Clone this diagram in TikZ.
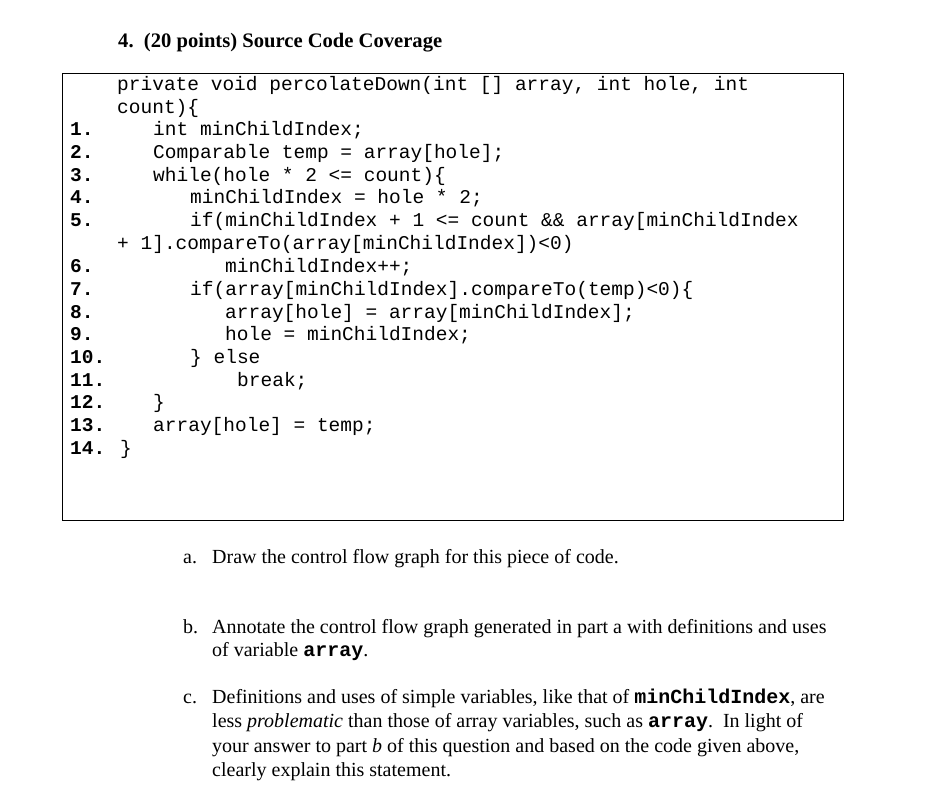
\documentclass[tikz,border=0pt]{standalone}
\usepackage{fontspec}
\setmainfont{Liberation Serif}
\setmonofont{Liberation Mono}
\begin{document}
\begin{tikzpicture}[x=1pt,y=-1pt,
  code/.style={anchor=base west,inner sep=0pt,font=\fontsize{19.5}{22}\ttfamily},
  num/.style={anchor=base west,inner sep=0pt,font=\fontsize{19.5}{22}\ttfamily\bfseries},
  txt/.style={anchor=base west,inner sep=0pt,font=\fontsize{20}{22}\selectfont}]
\useasboundingbox (0,0) rectangle (937,798);
\node[anchor=base west,inner sep=0pt,font=\fontsize{20.6}{24}\bfseries] (h) at (118,47) {4.\ \ (20 points) Source Code Coverage};
\draw[line width=0.8] (62,73) rectangle (843,520);
\node[code] (c0) at (117,90) {private void percolateDown(int [] array, int hole, int};
\node[code] (c0b) at (117,113) {count)\{};
\foreach \n/\y in {1/135,2/158,3/181,4/203,5/226,6/272,7/295,8/318,9/340,10/363,11/386,12/408,13/431,14/454}{
  \node[num] (n\n) at (70,\y) {\n.};
}
\node[code] (c1) at (153,135) {int minChildIndex;};
\node[code] (c2) at (153,158) {Comparable temp = array[hole];};
\node[code] (c3) at (153,181) {while(hole * 2 <= count)\{};
\node[code] (c4) at (190,203) {minChildIndex = hole * 2;};
\node[code] (c5) at (190,226) {if(minChildIndex + 1 <= count \&\& array[minChildIndex};
\node[code] (c5b) at (117,249) {+ 1].compareTo(array[minChildIndex])<0)};
\node[code] (c6) at (225,272) {minChildIndex++;};
\node[code] (c7) at (190,295) {if(array[minChildIndex].compareTo(temp)<0)\{};
\node[code] (c8) at (225,318) {array[hole] = array[minChildIndex];};
\node[code] (c9) at (225,340) {hole = minChildIndex;};
\node[code] (c10) at (190,363) {\} else};
\node[code] (c11) at (237,386) {break;};
\node[code] (c12) at (153,408) {\}};
\node[code] (c13) at (153,431) {array[hole] = temp;};
\node[code] (c14) at (120,454) {\}};
\node[txt] (a) at (183,563) {a.};
\node[txt] (at) at (212,563) {Draw the control flow graph for this piece of code.};
\node[txt] (b) at (183,633) {b.};
\node[txt] (bt) at (212,633) {Annotate the control flow graph generated in part a with definitions and uses};
\node[txt] (bt2) at (212,656) {of variable \textbf{\texttt{array}}.};
\node[txt] (c) at (183,703) {c.};
\node[txt] (ct1) at (212,703) {Definitions and uses of simple variables, like that of \textbf{\texttt{minChildIndex}}, are};
\node[txt] (ct2) at (212,727) {less \textit{problematic} than those of array variables, such as \textbf{\texttt{array}}.\ \ In light of};
\node[txt] (ct3) at (212,752) {your answer to part \textit{b} of this question and based on the code given above,};
\node[txt] (ct4) at (212,776) {clearly explain this statement.};
\end{tikzpicture}
\end{document}
